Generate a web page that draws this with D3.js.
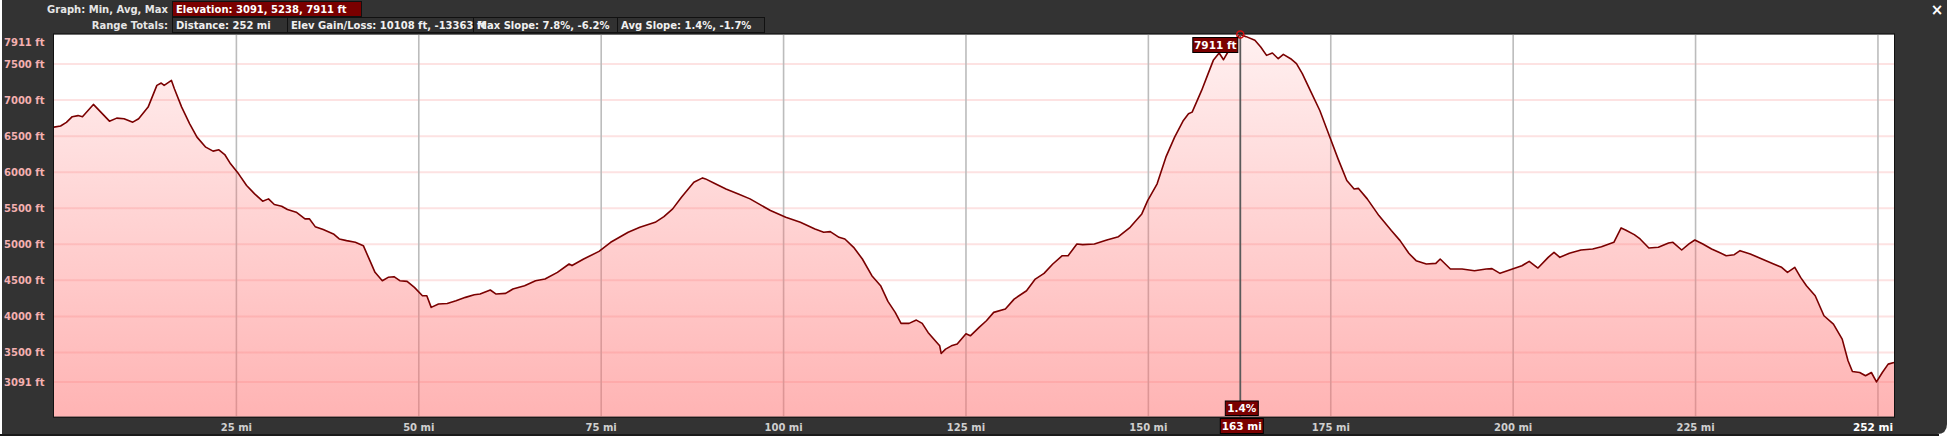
<!DOCTYPE html>
<html>
<head>
<meta charset="utf-8">
<script src="https://cdn.jsdelivr.net/npm/d3@7"></script>
<style>
  body { margin: 0; background: #fff; }
  text { font-family: "DejaVu Sans", sans-serif; font-weight: bold; }
</style>
</head>
<body>
<div id="elev-chart"></div>
<script>
// distance (mi) and elevation (ft)
let miles = [0, 0.9, 1.7, 2.5, 3.3, 3.9, 5.4, 7.6, 8.6, 9.6, 10.8, 11.6, 12.9, 14.1, 14.7, 15.1, 16.1, 16.5, 17.5, 18.6,
    19.6, 20.8, 21.8, 22.6, 23.4, 24.2, 25.3, 26.4, 27.5, 28.6, 29.4, 30.2, 31.2, 32.0, 33.2, 34.4, 35.0, 35.8, 36.9, 38.3,
    39.1, 40.1, 41.3, 42.4, 43.3, 44.0, 45.0, 45.8, 46.6, 47.4, 48.4, 49.4, 50.5, 51.1, 51.7, 52.7, 53.9, 55.1, 56.4, 57.6,
    58.4, 59.8, 60.6, 61.9, 62.9, 64.5, 66.0, 67.3, 69.0, 70.6, 71.0, 72.6, 74.7, 76.3, 78.7, 80.3, 82.4, 83.6, 84.8, 86.0,
    87.7, 88.9, 89.3, 90.5, 92.1, 93.8, 95.4, 96.6, 98.2, 100.3, 102.3, 104.3, 105.5, 106.4, 107.6, 108.4, 109.6, 110.8, 112.1, 113.3,
    114.3, 115.3, 116.1, 117.2, 118.2, 119.0, 119.8, 121.0, 121.4, 121.6, 122.2, 123.0, 123.8, 125.0, 125.6, 126.8, 127.8, 128.8, 130.4, 131.6,
    133.3, 134.5, 135.7, 136.9, 138.2, 139.0, 140.2, 141.0, 142.6, 144.3, 145.9, 147.5, 149.1, 149.9, 151.2, 152.4, 153.6, 154.8, 155.5, 156.0,
    157.3, 158.1, 158.9, 159.7, 160.3, 160.9, 162.0, 162.6, 163.4, 164.6, 165.4, 166.2, 167.0, 167.8, 168.5, 169.5, 170.3, 171.1, 172.3, 173.5,
    174.7, 176.0, 177.2, 178.2, 178.8, 180.0, 181.6, 183.3, 184.5, 185.7, 186.7, 188.1, 189.4, 190.0, 191.4, 193.0, 194.7, 196.3, 197.1, 198.2,
    199.5, 201.2, 202.2, 203.4, 204.8, 205.6, 206.4, 207.7, 209.3, 210.9, 212.1, 213.8, 214.8, 215.4, 216.6, 217.4, 218.6, 219.9, 221.3, 221.9,
    223.1, 224.1, 224.9, 226.0, 227.2, 228.2, 229.2, 230.3, 231.1, 232.5, 234.1, 235.7, 236.8, 237.6, 238.6, 239.4, 240.2, 241.4, 242.6, 243.9,
    245.1, 245.9, 246.5, 247.5, 248.3, 249.1, 249.8, 250.6, 251.4, 252.2];

let elevation = [6625, 6640, 6690, 6770, 6785, 6770, 6940, 6708, 6750, 6741, 6694, 6741, 6903, 7204, 7236, 7204, 7273, 7157, 6903, 6671,
    6486, 6347, 6292, 6310, 6245, 6116, 5977, 5815, 5699, 5598, 5630, 5552, 5528, 5482, 5445, 5353, 5353, 5245, 5204, 5144,
    5074, 5051, 5028, 4981, 4773, 4611, 4495, 4542, 4551, 4495, 4486, 4403, 4287, 4287, 4125, 4171, 4180, 4218, 4264, 4301,
    4310, 4366, 4310, 4319, 4380, 4426, 4495, 4518, 4611, 4727, 4705, 4796, 4902, 5028, 5167, 5236, 5305, 5384, 5491, 5653,
    5861, 5921, 5907, 5847, 5768, 5699, 5630, 5560, 5468, 5375, 5305, 5213, 5167, 5176, 5097, 5074, 4958, 4796, 4565, 4426,
    4208, 4056, 3903, 3903, 3949, 3903, 3778, 3639, 3592, 3486, 3546, 3592, 3616, 3760, 3731, 3847, 3940, 4056, 4102, 4240,
    4356, 4518, 4597, 4727, 4842, 4842, 5005, 4995, 5005, 5060, 5106, 5236, 5421, 5606, 5838, 6208, 6486, 6718, 6810, 6833,
    7134, 7343, 7551, 7653, 7560, 7667, 7852, 7911, 7880, 7829, 7736, 7620, 7653, 7574, 7634, 7574, 7505, 7366, 7111, 6856,
    6532, 6185, 5884, 5768, 5775, 5630, 5398, 5190, 5051, 4875, 4773, 4727, 4736, 4796, 4657, 4657, 4634, 4657, 4662, 4597,
    4643, 4703, 4764, 4671, 4819, 4889, 4819, 4875, 4921, 4935, 4967, 5028, 5227, 5199, 5134, 5074, 4949, 4958, 5018, 5028,
    4921, 5005, 5060, 5005, 4935, 4889, 4842, 4856, 4912, 4866, 4796, 4727, 4681, 4611, 4681, 4541, 4426, 4287, 4009, 3893,
    3685, 3384, 3236, 3222, 3176, 3222, 3091, 3222, 3338, 3361];

// tick values
let yTicks = [7911, 7500, 7000, 6500, 6000, 5500, 5000, 4500, 4000, 3500, 3091];
let xTicks = [25, 50, 75, 100, 125, 150, 175, 200, 225, 250];
let xLabelTicks = [25, 50, 75, 100, 125, 150, 175, 200, 225];
let totalMiles = 252;

// header summary
let graphLabels = ['Graph: Min, Avg, Max', 'Range Totals:'];
let elevSummary = 'Elevation: 3091, 5238, 7911 ft';
let rangeTotals = ['Distance: 252 mi', 'Elev Gain/Loss: 10108 ft, -13363 ft', 'Max Slope: 7.8%, -6.2%', 'Avg Slope: 1.4%, -1.7%'];
let rangeBoxEdges = [172, 287, 473, 617, 764];

// hover cursor
let cursorMile = 162.6;
let cursorSlope = '1.4%';

let data = miles.map(function (m, i) {
    return {mi: m, ft: elevation[i]};
});

let W = 1947, H = 436;
let margin = {top: 34.4, right: 53, bottom: 19.3, left: 54},
    width = W - margin.left - margin.right,
    height = H - margin.top - margin.bottom;

let minFt = d3.min(elevation), maxFt = d3.max(elevation);

let x = d3.scaleLinear().domain([0, d3.max(miles)]).range([0, width]);
let y = d3.scaleLinear().domain([minFt - 0.1 * (maxFt - minFt), maxFt]).range([height, 0]);

let root = d3.select('#elev-chart')
    .append('svg')
    .attr('width', W)
    .attr('height', H);

// dark panel
root.append('path')
    .attr('d', 'M2,0 H' + W + ' V424 Q' + W + ',434 ' + (W - 10) + ',434 H2 Z')
    .attr('fill', '#333');
root.append('rect').attr('x', 0).attr('y', 434).attr('width', W - 8).attr('height', 2).attr('fill', '#1a1a1a');

// header
let hdr = root.append('g');
hdr.selectAll('text.glabel')
    .data(graphLabels)
    .enter().append('text')
    .attr('class', 'glabel')
    .attr('x', 168)
    .attr('y', function (d, i) { return i === 0 ? 13 : 29; })
    .attr('text-anchor', 'end')
    .attr('font-size', 10)
    .attr('fill', '#e6e6e6')
    .text(function (d) { return d; });

hdr.append('rect')
    .attr('x', 172.5).attr('y', 1.5).attr('width', 189).attr('height', 15)
    .attr('fill', '#7a0000').attr('stroke', '#111');
hdr.append('text')
    .attr('x', 176).attr('y', 13)
    .attr('font-size', 10).attr('fill', '#fff')
    .text(elevSummary);

hdr.selectAll('rect.rt')
    .data(rangeTotals)
    .enter().append('rect')
    .attr('class', 'rt')
    .attr('x', function (d, i) { return rangeBoxEdges[i] + 0.5; })
    .attr('y', 17.5)
    .attr('width', function (d, i) { return rangeBoxEdges[i + 1] - rangeBoxEdges[i]; })
    .attr('height', 15)
    .attr('fill', '#313131').attr('stroke', '#111');
hdr.selectAll('text.rt')
    .data(rangeTotals)
    .enter().append('text')
    .attr('class', 'rt')
    .attr('x', function (d, i) { return rangeBoxEdges[i] + 4; })
    .attr('y', 29)
    .attr('font-size', 10).attr('fill', '#f0f0f0')
    .text(function (d) { return d; });

root.append('text')
    .attr('x', 1937).attr('y', 15)
    .attr('text-anchor', 'middle')
    .attr('font-size', 15).attr('fill', '#fff')
    .text('\u00d7');

let svg = root.append('g')
    .attr('transform', 'translate(' + margin.left + ',' + margin.top + ')');

// plot background
svg.append('rect')
    .attr('width', width).attr('height', height)
    .attr('fill', '#fff');

// grid lines under the translucent fill
svg.append('g')
    .selectAll('line')
    .data(yTicks.slice(1))
    .enter().append('line')
    .attr('x1', 0).attr('x2', width)
    .attr('y1', function (d) { return y(d); })
    .attr('y2', function (d) { return y(d); })
    .attr('stroke', '#fde2e2').attr('stroke-width', 2);

svg.append('g')
    .selectAll('line')
    .data(xTicks)
    .enter().append('line')
    .attr('x1', function (d) { return x(d); })
    .attr('x2', function (d) { return x(d); })
    .attr('y1', 0).attr('y2', height)
    .attr('stroke', '#bcbcbc').attr('stroke-width', 1.6);

// gradient fill
let grad = root.append('defs').append('linearGradient')
    .attr('id', 'elev-fill')
    .attr('gradientUnits', 'userSpaceOnUse')
    .attr('x1', 0).attr('x2', 0).attr('y1', 0).attr('y2', height);
grad.append('stop').attr('offset', '0%').attr('stop-color', 'rgb(255,110,110)').attr('stop-opacity', 0.1);
grad.append('stop').attr('offset', '100%').attr('stop-color', 'rgb(255,110,110)').attr('stop-opacity', 0.52);

let area = d3.area()
    .x(function (d) { return x(d.mi); })
    .y0(height)
    .y1(function (d) { return y(d.ft); });

let line = d3.line()
    .x(function (d) { return x(d.mi); })
    .y(function (d) { return y(d.ft); });

svg.append('path')
    .datum(data)
    .attr('d', area)
    .attr('fill', 'url(#elev-fill)');

svg.append('path')
    .datum(data)
    .attr('d', line)
    .attr('fill', 'none')
    .attr('stroke', '#7a0000')
    .attr('stroke-width', 1.6)
    .attr('stroke-linejoin', 'round');

// plot frame
svg.append('rect')
    .attr('x', -0.5).attr('y', -0.5)
    .attr('width', width + 1).attr('height', height + 1)
    .attr('fill', 'none').attr('stroke', '#111');

// Y labels
root.append('g')
    .selectAll('text')
    .data(yTicks)
    .enter().append('text')
    .attr('x', 4)
    .attr('y', function (d) { return Math.max(margin.top + y(d), margin.top + 7.5) + 4; })
    .attr('font-size', 10)
    .attr('fill', '#f4b0b0')
    .text(function (d) { return d + ' ft'; });

// X labels
root.append('g')
    .selectAll('text')
    .data(xLabelTicks)
    .enter().append('text')
    .attr('x', function (d) { return margin.left + x(d); })
    .attr('y', 430.5)
    .attr('text-anchor', 'middle')
    .attr('font-size', 10)
    .attr('fill', '#cfcfcf')
    .text(function (d) { return d + ' mi'; });

root.append('text')
    .attr('x', margin.left + width - 1).attr('y', 430.5)
    .attr('text-anchor', 'end')
    .attr('font-size', 10.5)
    .attr('fill', '#fff')
    .text(totalMiles + ' mi');

// cursor
let cx = x(cursorMile);
let cursorFt = elevation[miles.indexOf(cursorMile)];
svg.append('line')
    .attr('x1', cx).attr('x2', cx)
    .attr('y1', 0).attr('y2', height)
    .attr('stroke', '#5a5a5a').attr('stroke-width', 1.8);
svg.append('circle')
    .attr('cx', cx).attr('cy', y(cursorFt))
    .attr('r', 3.5)
    .attr('fill', 'none').attr('stroke', '#d01010').attr('stroke-width', 1.5);

function tag(g, x0, y0, w, h, label) {
    g.append('rect')
        .attr('x', x0 + 0.5).attr('y', y0 + 0.5).attr('width', w).attr('height', h)
        .attr('fill', '#7a0000').attr('stroke', '#000');
    g.append('text')
        .attr('x', x0 + w / 2 + 0.5).attr('y', y0 + h / 2 + 4.5)
        .attr('text-anchor', 'middle')
        .attr('font-size', 10.5)
        .attr('fill', '#fff')
        .text(label);
}

let tags = root.append('g');
tag(tags, margin.left + cx - 48, 37, 45, 15, cursorFt + ' ft');
tag(tags, margin.left + cx - 15.5, 400.5, 33, 14.5, cursorSlope);
tag(tags, margin.left + cx - 20.5, 418, 43, 15, Math.round(cursorMile) + ' mi');
</script>
</body>
</html>
